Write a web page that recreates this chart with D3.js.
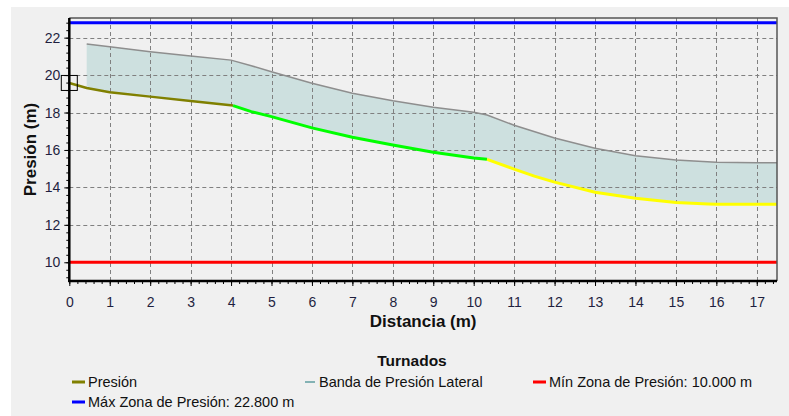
<!DOCTYPE html>
<html>
<head>
<meta charset="utf-8">
<script src="https://cdn.jsdelivr.net/npm/d3@7"></script>
<style>
  body { margin: 0; background: #ffffff; }
  svg { display: block; font-family: "Liberation Sans", Arial, sans-serif; }
</style>
</head>
<body>
<svg id="chart"></svg>
<script>
// presion line (distance in m, pressure in m)
var presionDist = [0, 0.43, 1, 2, 3, 4.05, 4.5, 5, 6, 7, 8, 9, 10, 10.33, 11, 11.5, 12, 13, 14, 15, 15.8, 16, 17, 17.5]
var presion = [19.58, 19.31, 19.08, 18.85, 18.62, 18.37, 18.05, 17.78, 17.18, 16.68, 16.27, 15.88, 15.57, 15.5, 14.98, 14.6, 14.28, 13.74, 13.42, 13.2, 13.12, 13.1, 13.1, 13.1]
// where the presion line changes colour
var segmentBreaks = [0, 4.05, 10.33, 17.5]
var segmentColors = ['#808000', '#00ff00', '#ffff00']

// upper edge of the lateral band
var bandDist = [0.43, 1, 2, 3, 4, 4.5, 5, 6, 7, 8, 9, 10, 10.33, 11, 12, 13, 14, 15, 16, 17, 17.5]
var bandTop = [21.66, 21.52, 21.25, 21.02, 20.8, 20.5, 20.18, 19.56, 19.03, 18.63, 18.28, 18.01, 17.87, 17.32, 16.64, 16.09, 15.69, 15.46, 15.34, 15.32, 15.32]

var minZona = 10.0
var maxZona = 22.8

var xTicks = d3.range(0, 18, 1)
var yTicks = [10, 12, 14, 16, 18, 20, 22]

var legendTitle = 'Turnados'
var legendItems = [
  { label: 'Presión', color: '#808000' },
  { label: 'Banda de Presión Lateral', color: '#5f9ea0' },
  { label: 'Mín Zona de Presión: 10.000 m', color: '#ff0000' },
  { label: 'Máx Zona de Presión: 22.800 m', color: '#0000ff' }
]

var width = 789
var height = 416
var plot = { left: 69.3, right: 777, top: 18, bottom: 281 }

var svg = d3.select('#chart')
  .attr('width', width)
  .attr('height', height)

svg.append('rect')
  .attr('x', 11).attr('y', 7)
  .attr('width', width - 11).attr('height', height - 7)
  .attr('fill', '#f0f0f0')

var x = d3.scaleLinear()
  .domain([0, 17.5])
  .range([plot.left, plot.right])
var y = d3.scaleLinear()
  .domain([9, 23.05])
  .range([plot.bottom, plot.top])

var line = d3.line()
  .x(function (d) { return x(d[0]) })
  .y(function (d) { return y(d[1]) })

var topPts = bandDist.map(function (d, i) { return [d, bandTop[i]] })
var presPts = presionDist.map(function (d, i) { return [d, presion[i]] })
var lowPts = presPts.filter(function (d) { return d[0] >= bandDist[0] }).reverse()

// band fill (under the grid)
svg.append('path')
  .attr('d', line(topPts.concat(lowPts)) + 'Z')
  .attr('fill', '#cde0df')

// grid
var grid = svg.append('g')
  .attr('stroke', '#808080')
  .attr('stroke-width', 1)
  .attr('stroke-dasharray', '4,3')
grid.selectAll('.vg')
  .data(xTicks.filter(function (d) { return d > 0 }))
  .enter().append('line')
  .attr('x1', function (d) { return Math.round(x(d)) + 0.5 })
  .attr('x2', function (d) { return Math.round(x(d)) + 0.5 })
  .attr('y1', plot.top)
  .attr('y2', plot.bottom)
grid.selectAll('.hg')
  .data(yTicks)
  .enter().append('line')
  .attr('x1', plot.left)
  .attr('x2', plot.right)
  .attr('y1', function (d) { return Math.round(y(d)) + 0.5 })
  .attr('y2', function (d) { return Math.round(y(d)) + 0.5 })

svg.append('path')
  .attr('d', line(topPts))
  .attr('fill', 'none')
  .attr('stroke', '#8e8e8e')
  .attr('stroke-width', 1.5)

// zone limits
svg.selectAll('.zona')
  .data([{ v: minZona, c: '#ff0000' }, { v: maxZona, c: '#0000ff' }])
  .enter().append('line')
  .attr('x1', plot.left)
  .attr('x2', plot.right)
  .attr('y1', function (d) { return y(d.v) })
  .attr('y2', function (d) { return y(d.v) })
  .attr('stroke', function (d) { return d.c })
  .attr('stroke-width', 3)

// presion in three coloured pieces
segmentColors.forEach(function (c, i) {
  var pts = presPts.filter(function (d) {
    return d[0] >= segmentBreaks[i] && d[0] <= segmentBreaks[i + 1]
  })
  svg.append('path')
    .attr('d', line(pts))
    .attr('fill', 'none')
    .attr('stroke', c)
    .attr('stroke-width', i === 0 ? 2.5 : 3)
})

// selection marker at the first point
svg.append('rect')
  .attr('x', x(presionDist[0]) - 8)
  .attr('y', y(presion[0]) - 7.5)
  .attr('width', 16)
  .attr('height', 15)
  .attr('fill', 'none')
  .attr('stroke', '#000')
  .attr('stroke-width', 1)

// frame
svg.append('path')
  .attr('d', 'M' + plot.left + ',' + plot.top + 'H' + plot.right + 'V' + plot.bottom)
  .attr('fill', 'none')
  .attr('stroke', '#555')
  .attr('stroke-width', 1.5)

var tickColor = '#1f1f3f'

// x axis: minor then major
var xMinor = svg.append('g')
  .attr('transform', 'translate(0,' + plot.bottom + ')')
  .call(d3.axisBottom(x).tickValues(d3.range(0, 17.6, 0.2)).tickSize(3).tickFormat(''))
var xAxis = svg.append('g')
  .attr('transform', 'translate(0,' + plot.bottom + ')')
  .call(d3.axisBottom(x).tickValues(xTicks).tickSize(5).tickPadding(11).tickFormat(d3.format('d')))

var yMinor = svg.append('g')
  .attr('transform', 'translate(' + plot.left + ',0)')
  .call(d3.axisLeft(y).tickValues(d3.range(9.2, 23, 0.4)).tickSize(3).tickFormat(''))
var yAxis = svg.append('g')
  .attr('transform', 'translate(' + plot.left + ',0)')
  .call(d3.axisLeft(y).tickValues(yTicks).tickSize(5).tickPadding(4).tickFormat(d3.format('d')))

;[xMinor, xAxis, yMinor, yAxis].forEach(function (g) {
  g.select('.domain').remove()
  g.selectAll('line').attr('stroke', '#000')
  g.selectAll('text')
    .attr('fill', tickColor)
    .style('font-size', '14px')
    .style('font-family', '"Liberation Sans", Arial, sans-serif')
})

svg.append('line')
  .attr('x1', plot.left).attr('x2', plot.left)
  .attr('y1', plot.top).attr('y2', plot.bottom + 1)
  .attr('stroke', '#000').attr('stroke-width', 2.5)
svg.append('line')
  .attr('x1', plot.left - 1).attr('x2', plot.right)
  .attr('y1', plot.bottom).attr('y2', plot.bottom)
  .attr('stroke', '#000').attr('stroke-width', 2.5)

// axis titles
svg.append('text')
  .attr('x', (plot.left + plot.right) / 2)
  .attr('y', 327)
  .attr('text-anchor', 'middle')
  .attr('font-weight', 'bold')
  .attr('font-size', 17)
  .attr('fill', '#111')
  .text('Distancia (m)')
svg.append('text')
  .attr('transform', 'translate(36,' + ((plot.top + plot.bottom) / 2) + ') rotate(-90)')
  .attr('text-anchor', 'middle')
  .attr('font-weight', 'bold')
  .attr('font-size', 17)
  .attr('fill', '#111')
  .text('Presión (m)')

// legend
svg.append('text')
  .attr('x', 412)
  .attr('y', 366)
  .attr('text-anchor', 'middle')
  .attr('font-weight', 'bold')
  .attr('font-size', 15.5)
  .attr('fill', '#111')
  .text(legendTitle)

var legendPos = [[72, 387], [305, 387], [533, 387], [72, 407]]
var items = svg.selectAll('.item')
  .data(legendItems)
  .enter().append('g')
  .attr('transform', function (d, i) { return 'translate(' + legendPos[i][0] + ',' + legendPos[i][1] + ')' })
items.append('line')
  .attr('x1', 0)
  .attr('x2', function (d, i) { return i === 1 ? 10 : 13 })
  .attr('y1', -5)
  .attr('y2', -5)
  .attr('stroke', function (d) { return d.color })
  .attr('stroke-width', function (d, i) { return i === 1 ? 1.5 : 3 })
items.append('text')
  .attr('x', function (d, i) { return i === 1 ? 14 : 16 })
  .attr('font-size', 14.5)
  .attr('fill', '#111')
  .text(function (d) { return d.label })
</script>
</body>
</html>
